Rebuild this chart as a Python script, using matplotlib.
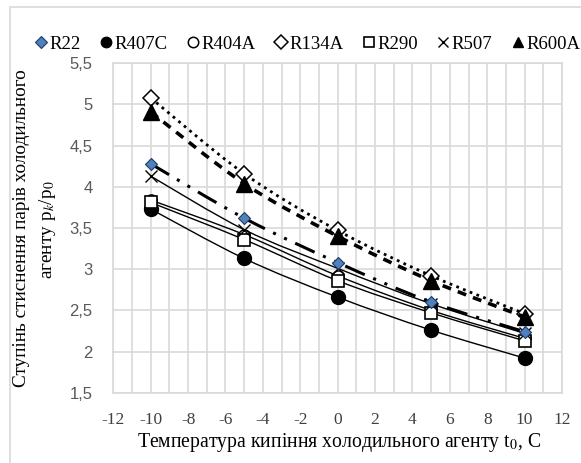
import matplotlib
matplotlib.use("Agg")
import matplotlib.pyplot as plt
import numpy as np
from matplotlib.path import Path
from matplotlib.patches import PathPatch, Rectangle
from matplotlib.lines import Line2D

plt.rcParams['mathtext.fontset'] = 'stix'
plt.rcParams['axes.unicode_minus'] = False

# ---- data ----
temps = [-10, -5, 0, 5, 10]
R22   = [4.28, 3.62, 3.08, 2.60, 2.24]
R407C = [3.73, 3.13, 2.66, 2.26, 1.92]
R404A = [3.84, 3.42, 2.92, 2.50, 2.16]
R134A = [5.08, 4.16, 3.47, 2.92, 2.46]
R290  = [3.81, 3.36, 2.86, 2.47, 2.13]
R507  = [4.13, 3.48, 3.01, 2.58, 2.22]
R600A = [4.91, 4.04, 3.40, 2.86, 2.42]
names = ['R22', 'R407C', 'R404A', 'R134A', 'R290', 'R507', 'R600A']
x_ticks = list(range(-12, 13, 2))
y_ticks = [1.5, 2, 2.5, 3, 3.5, 4, 4.5, 5, 5.5]
y_tick_labels = ['1,5', '2', '2,5', '3', '3,5', '4', '4,5', '5', '5,5']

series = dict(R22=R22, R407C=R407C, R404A=R404A, R134A=R134A,
              R290=R290, R507=R507, R600A=R600A)

styles = {
    'R22':   dict(marker='D', ms=6.5, mfc='#4f81bd', mec='#1f3b66', mew=0.8,
                  ls=(0, (7, 3, 1, 3, 1, 3)), lw=2.2),
    'R407C': dict(marker='o', ms=10, mfc='black', mec='black', mew=1,
                  ls='-', lw=1.0),
    'R404A': dict(marker='o', ms=8, mfc='white', mec='black', mew=1.1,
                  ls='-', lw=1.0),
    'R134A': dict(marker='D', ms=8, mfc='white', mec='black', mew=1.1,
                  ls=(0, (1, 1.6)), lw=2.0),
    'R290':  dict(marker='s', ms=9, mfc='white', mec='black', mew=1.2,
                  ls='-', lw=1.0),
    'R507':  dict(marker='x', ms=9, mfc='black', mec='black', mew=1.0,
                  ls='-', lw=1.0),
    'R600A': dict(marker='^', ms=11, mfc='black', mec='black', mew=1,
                  ls=(0, (2.5, 2)), lw=2.6),
}
zorders = {'R407C': 3, 'R290': 4, 'R404A': 3.5, 'R507': 5, 'R22': 6,
           'R600A': 7, 'R134A': 6.5}

fig = plt.figure(figsize=(5.81, 4.63), dpi=100)
ax = fig.add_axes([113.3/581, 1-392.7/463, (562-113.3)/581, (392.7-63.3)/463])

# outer frame (left & top visible)
fig.patches.append(Rectangle((10/581, -0.1), 1.2, 1-7/463+0.1,
                             transform=fig.transFigure, fill=False,
                             ec='#d9d9d9', lw=1.2))

def smooth_path(xs, ys):
    xs = np.asarray(xs, float); ys = np.asarray(ys, float)
    n = len(xs)
    verts = [(xs[0], ys[0])]
    codes = [Path.MOVETO]
    for i in range(n - 1):
        i0 = max(i - 1, 0); i3 = min(i + 2, n - 1)
        c1 = (xs[i] + (xs[i+1] - xs[i0]) / 6, ys[i] + (ys[i+1] - ys[i0]) / 6)
        c2 = (xs[i+1] - (xs[i3] - xs[i]) / 6, ys[i+1] - (ys[i3] - ys[i]) / 6)
        verts += [c1, c2, (xs[i+1], ys[i+1])]
        codes += [Path.CURVE4] * 3
    return Path(verts, codes)

handles = []
for name in names:
    st = styles[name]
    ys = series[name]
    z = zorders[name]
    pp = PathPatch(smooth_path(temps, ys), fill=False, ec='black',
                   lw=st['lw'], ls=st['ls'], zorder=z, capstyle='butt')
    ax.add_patch(pp)
    ax.plot(temps, ys, ls='none', marker=st['marker'], ms=st['ms'],
            mfc=st['mfc'], mec=st['mec'], mew=st['mew'], zorder=z + 0.2)
    handles.append(Line2D([], [], ls='none', marker=st['marker'],
                          ms=7.5 if name != 'R22' else 6, mfc=st['mfc'], mec=st['mec'],
                          mew=st['mew'], label=name))

ax.set_xlim(-12, 12)
ax.set_ylim(1.5, 5.5)
ax.set_xticks(x_ticks)
ax.set_xticks(range(-12, 13), minor=True)
ax.set_yticks(y_ticks)
ax.set_yticklabels(y_tick_labels)
ax.grid(True, which='both', axis='x', color='#d9d9d9', lw=1.2)
ax.grid(True, which='major', axis='y', color='#d9d9d9', lw=1.2)
ax.set_axisbelow(True)
for s in ax.spines.values():
    s.set_color('#d9d9d9')
    s.set_linewidth(1.2)
ax.tick_params(which='both', length=0)
ax.tick_params(axis='x', pad=14)
ax.tick_params(axis='y', pad=15)
for lab in ax.get_xticklabels():
    lab.set_fontfamily('Liberation Serif')
    lab.set_fontsize(12.5)
    lab.set_color('#404040')
for lab in ax.get_yticklabels():
    lab.set_fontfamily('Liberation Sans')
    lab.set_fontsize(12)
    lab.set_color('#595959')

fig.text(339/581, 1-443/463, 'Температура кипіння холодильного агенту t$_0$, C',
         ha='center', va='center', fontsize=14.2, family='Liberation Serif')
fig.text(22/581, 1-228/463, 'Ступінь стиснення парів холодильного',
         ha='center', va='center', rotation=90, fontsize=13.9,
         family='Liberation Serif')
fig.text(48/581, 1-230/463, 'агенту p$_k$/p$_0$',
         ha='center', va='center', rotation=90, fontsize=13.9,
         family='Liberation Serif')

leg = fig.legend(handles=handles, loc='center', bbox_to_anchor=(308/581, 1-44/463),
                 ncol=7, frameon=False, handlelength=0.6, handletextpad=0.15,
                 columnspacing=1.05, prop={'family': 'Liberation Serif', 'size': 13.5},
                 borderaxespad=0, borderpad=0)

fig.savefig('out.png', dpi=100)
